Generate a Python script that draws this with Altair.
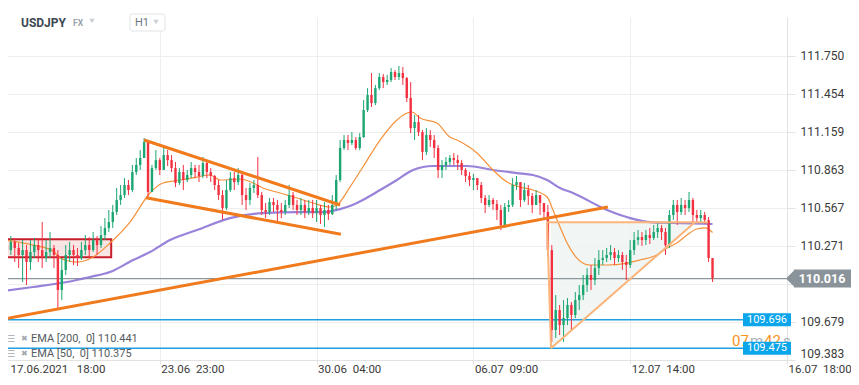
import altair as alt
import pandas as pd

# ---------------- data ----------------
symbol = "USDJPY"
market = "FX"
interval = "H1"

x_tick_idx = [0, 40, 80, 120, 160, 200]
x_tick_labels = ["17.06.2021\u00a0\u00a0\u00a018:00", "23.06\u00a0\u00a023:00", "30.06\u00a0\u00a004:00",
                 "06.07\u00a0\u00a009:00", "12.07\u00a0\u00a014:00", "16.07\u00a0\u00a018:00"]
y_ticks = [109.383, 109.679, 109.975, 110.271, 110.567, 110.863, 111.159, 111.454, 111.750]
y_hidden_tick = 109.975

first_open = 110.300
closes = [
    110.277, 110.238, 110.301, 110.254, 110.200, 110.238, 110.145, 110.223, 110.277, 110.238,
    110.176, 110.223, 110.254, 110.200, 109.927, 110.083, 110.200, 110.238, 110.200, 110.176,
    110.238, 110.277, 110.238, 110.316, 110.277, 110.355, 110.410, 110.456, 110.534, 110.628,
    110.666, 110.744, 110.705, 110.845, 110.900, 110.954, 111.078, 110.690, 110.876, 110.938,
    110.861, 110.977, 110.938, 110.876, 110.760, 110.845, 110.783, 110.822, 110.876, 110.845,
    110.814, 110.915, 110.845, 110.814, 110.744, 110.666, 110.565, 110.705, 110.798, 110.767,
    110.822, 110.666, 110.628, 110.721, 110.744, 110.666, 110.550, 110.534, 110.612, 110.589,
    110.550, 110.534, 110.589, 110.666, 110.589, 110.550, 110.589, 110.534, 110.565, 110.526,
    110.565, 110.511, 110.550, 110.518, 110.589, 110.783, 111.032, 111.094, 111.071, 111.094,
    111.032, 111.117, 111.327, 111.444, 111.382, 111.498, 111.584, 111.545, 111.561, 111.623,
    111.584, 111.615, 111.576, 111.421, 111.187, 111.234, 111.156, 111.001, 111.133, 111.094,
    111.032, 110.861, 110.900, 110.923, 110.954, 110.938, 110.915, 110.861, 110.814, 110.783,
    110.798, 110.744, 110.643, 110.589, 110.628, 110.596, 110.550, 110.433, 110.573, 110.589,
    110.744, 110.767, 110.628, 110.705, 110.658, 110.589, 110.666, 110.604, 110.534, 110.238,
    109.616, 109.772, 109.655, 109.709, 109.811, 109.733, 109.849, 109.888, 109.966, 110.044,
    110.005, 110.098, 110.161, 110.176, 110.200, 110.223, 110.176, 110.200, 110.145, 110.122,
    110.238, 110.316, 110.339, 110.316, 110.355, 110.332, 110.378, 110.410, 110.378, 110.277,
    110.511, 110.589, 110.534, 110.589, 110.565, 110.628, 110.511, 110.487, 110.511, 110.472,
    110.176, 110.016,
]
highs = [
    110.339, 110.316, 110.347, 110.332, 110.293, 110.316, 110.277, 110.316, 110.332, 110.332,
    110.456, 110.316, 110.378, 110.277, 110.238, 110.176, 110.277, 110.301, 110.277, 110.254,
    110.301, 110.355, 110.339, 110.378, 110.347, 110.425, 110.487, 110.550, 110.589, 110.721,
    110.744, 110.798, 110.783, 110.900, 110.954, 111.016, 111.110, 111.055, 110.900, 111.016,
    110.954, 111.040, 111.016, 110.977, 110.923, 110.876, 110.900, 110.861, 110.923, 110.900,
    110.900, 110.962, 110.938, 110.876, 110.822, 110.783, 110.705, 110.783, 110.845, 110.845,
    110.876, 110.845, 110.721, 110.760, 110.783, 110.962, 110.690, 110.604, 110.643, 110.643,
    110.628, 110.604, 110.628, 110.744, 110.690, 110.628, 110.643, 110.628, 110.628, 110.628,
    110.628, 110.589, 110.612, 110.589, 110.666, 110.822, 111.094, 111.133, 111.133, 111.156,
    111.117, 111.148, 111.405, 111.498, 111.615, 111.522, 111.615, 111.607, 111.600, 111.654,
    111.638, 111.670, 111.662, 111.584, 111.545, 111.288, 111.288, 111.172, 111.187, 111.172,
    111.133, 111.055, 110.938, 110.962, 110.977, 110.993, 110.977, 110.938, 110.876, 110.845,
    110.830, 110.798, 110.767, 110.666, 110.666, 110.643, 110.628, 110.589, 110.604, 110.628,
    110.798, 110.814, 110.767, 110.760, 110.744, 110.682, 110.705, 110.666, 110.604, 110.589,
    110.277, 109.888, 109.811, 109.849, 109.865, 109.834, 109.912, 109.966, 110.044, 110.098,
    110.122, 110.176, 110.238, 110.238, 110.254, 110.277, 110.254, 110.238, 110.223, 110.200,
    110.316, 110.378, 110.394, 110.378, 110.394, 110.410, 110.433, 110.456, 110.433, 110.410,
    110.550, 110.628, 110.628, 110.643, 110.628, 110.690, 110.643, 110.550, 110.550, 110.534,
    110.495, 110.145,
]
lows = [
    110.223, 110.176, 110.200, 110.145, 110.098, 109.990, 109.966, 110.083, 110.176, 110.145,
    110.098, 110.145, 110.176, 110.098, 109.772, 109.849, 110.044, 110.145, 110.122, 110.114,
    110.161, 110.200, 110.176, 110.223, 110.200, 110.254, 110.316, 110.378, 110.410, 110.511,
    110.589, 110.643, 110.666, 110.690, 110.822, 110.861, 111.016, 110.651, 110.690, 110.861,
    110.822, 110.861, 110.892, 110.845, 110.728, 110.744, 110.705, 110.767, 110.798, 110.798,
    110.767, 110.798, 110.798, 110.767, 110.705, 110.628, 110.472, 110.550, 110.690, 110.705,
    110.744, 110.589, 110.550, 110.589, 110.682, 110.643, 110.511, 110.487, 110.511, 110.534,
    110.456, 110.487, 110.511, 110.565, 110.550, 110.511, 110.511, 110.487, 110.511, 110.487,
    110.456, 110.441, 110.417, 110.472, 110.511, 110.550, 110.767, 111.016, 111.016, 111.055,
    111.016, 111.016, 111.110, 111.312, 111.351, 111.366, 111.483, 111.498, 111.522, 111.545,
    111.561, 111.561, 111.522, 111.390, 111.148, 111.094, 111.125, 110.938, 110.977, 111.040,
    110.954, 110.798, 110.798, 110.861, 110.900, 110.900, 110.861, 110.822, 110.767, 110.736,
    110.705, 110.705, 110.604, 110.526, 110.573, 110.550, 110.472, 110.394, 110.410, 110.534,
    110.573, 110.705, 110.573, 110.612, 110.589, 110.526, 110.589, 110.511, 110.472, 110.192,
    109.523, 109.554, 109.577, 109.523, 109.655, 109.616, 109.709, 109.772, 109.849, 109.912,
    109.927, 109.966, 110.044, 110.122, 110.145, 110.161, 110.122, 110.145, 110.083, 110.005,
    110.098, 110.200, 110.277, 110.270, 110.277, 110.285, 110.316, 110.332, 110.316, 110.200,
    110.254, 110.472, 110.433, 110.511, 110.511, 110.534, 110.456, 110.456, 110.456, 110.441,
    110.145, 109.990,
]

ema50_idx = [0, 7.7, 12.8, 14.5, 18.9, 23, 27.3, 32.4, 37.5, 40.8, 45.2, 49.5, 52.8, 55.4, 60.5,
             63.8, 66.3, 70.7, 75, 79.1, 83.4, 85.2, 88.5, 91.8, 96.2, 100.5, 103.1, 104.3, 106.4,
             110.7, 114, 115.8, 120.9, 125, 128.6, 131.9, 135.2, 138.8, 140.3, 142.1, 143.9, 146.4,
             149.7, 154.1, 159.2, 162.5, 166.8, 169.4, 171.9, 174.5, 177.0, 179.1, 181]
ema50_val = [110.316, 110.277, 110.231, 110.176, 110.145, 110.184, 110.293, 110.456, 110.682, 110.760,
             110.783, 110.806, 110.822, 110.783, 110.791, 110.760, 110.721, 110.682, 110.643, 110.604,
             110.573, 110.589, 110.728, 110.884, 111.094, 111.250, 111.304, 111.312, 111.265, 111.226,
             111.117, 111.094, 110.993, 110.861, 110.767, 110.728, 110.705, 110.651, 110.550, 110.417,
             110.293, 110.176, 110.122, 110.122, 110.137, 110.161, 110.200, 110.254, 110.293, 110.355,
             110.402, 110.410, 110.375]
ema200_idx = [0, 7.7, 16.3, 22.2, 27.3, 33.2, 37.5, 42.6, 49.5, 57.9, 66.3, 75, 81.6, 86, 88.5, 91.8,
              96.2, 100.5, 104.6, 109.7, 118.4, 125, 131.1, 135.2, 138.8, 142.1, 145.4, 154.1, 160,
              165, 170.9, 181]
ema200_val = [109.920, 109.951, 109.990, 110.029, 110.067, 110.161, 110.223, 110.316, 110.394, 110.487,
              110.526, 110.534, 110.534, 110.557, 110.581, 110.628, 110.705, 110.783, 110.861, 110.892,
              110.892, 110.861, 110.837, 110.822, 110.783, 110.721, 110.682, 110.550, 110.487, 110.456,
              110.449, 110.441]
legend_labels = ["EMA [200,\u00a0 0] 110.441", "EMA [50,\u00a0 0] 110.375"]

# drawings (trend lines, channel, triangle, box)
trend_x0 = [0, 36, 36.5]
trend_y0 = [109.700, 111.094, 110.645]
trend_x1 = [154.3, 86, 86.2]
trend_y1 = [110.573, 110.589, 110.361]
tri_x0 = [138.8, 138.8, 139.8]
tri_y0 = [110.454, 110.454, 109.474]
tri_x1 = [179.8, 139.8, 176.5]
tri_y1 = [110.454, 109.474, 110.454]
box_i = [0, 27.6]
box_v = [110.182, 110.322]
levels = [109.696, 109.475]
level_end_idx = 188.8
countdown = ["07", "m", "42", "s"]

# ---------------- build ----------------
GREEN, RED = "#1ba672", "#f23040"
opens = [first_open] + closes[:-1]
rows = []
for i, (o, c, h, l) in enumerate(zip(opens, closes, highs, lows)):
    rows.append(dict(i=i, open=o, close=c, high=max(h, o, c), low=min(l, o, c),
                     dir="up" if c >= o else "down"))
candles = pd.DataFrame(rows)

xs = alt.Scale(domain=[0, 200], nice=False, zero=False)
ys = alt.Scale(domain=[109.383, 112.051], nice=False, zero=False)
color = alt.Color("dir:N", scale=alt.Scale(domain=["up", "down"], range=[GREEN, RED]), legend=None)

x_expr = " : ".join(f"datum.value == {v} ? '{lab}'" for v, lab in zip(x_tick_idx, x_tick_labels)) + " : ''"
y_expr = f"abs(datum.value - {y_hidden_tick}) < 0.0005 ? '' : format(datum.value, '.3f')"

x_axis = alt.Axis(values=x_tick_idx, labelExpr=x_expr, grid=True, gridColor="#eeeeee",
                  domainColor="#e2e2e2", tickColor="#e2e2e2", tickSize=4, labelPadding=-1,
                  labelAlign="left", labelFont="Roboto", labelFontSize=11.5, labelColor="#3a3a3a",
                  labelOffset={"condition": {"test": f"datum.value == {x_tick_idx[0]}", "value": 7},
                               "value": 1},
                  labelOverlap=False, labelFlush=False, title=None)
y_axis = alt.Axis(values=y_ticks, labelExpr=y_expr, orient="right", grid=True, gridColor="#eeeeee",
                  domainColor="#e2e2e2", tickColor="#e2e2e2", tickSize=8, labelPadding=5,
                  labelFont="Roboto", labelFontSize=12, labelColor="#3a3a3a", labelFlush=True,
                  labelOverlap=False, title=None)


def X(field):
    return alt.X(field, scale=xs, axis=x_axis)


def Y(field):
    return alt.Y(field, scale=ys, axis=y_axis)


layers = []

# red box
box_df = pd.DataFrame({"x0": [box_i[0]], "x1": [box_i[1]], "y0": [box_v[0]], "y1": [box_v[1]]})
layers.append(alt.Chart(box_df).mark_rect(fill="#f6d3d3", fillOpacity=0.6, stroke="#c81e2b",
                                           strokeWidth=2, clip=True).encode(
    x=X("x0:Q"), x2="x1:Q", y=Y("y0:Q"), y2="y1:Q"))

# triangle fill
tri_fill = pd.DataFrame({"i": [tri_x1[1], tri_x1[2]], "top": [tri_y0[0], tri_y0[0]],
                         "bot": [tri_y1[1], tri_y1[2]]})
layers.append(alt.Chart(tri_fill).mark_area(color="#eef2f0", opacity=0.8).encode(
    x=X("i:Q"), y=Y("top:Q"), y2="bot:Q"))

# level lines
lvl_df = pd.DataFrame({"v": levels, "x0": [0] * len(levels), "x1": [level_end_idx] * len(levels)})
layers.append(alt.Chart(lvl_df).mark_rule(color="#1e9fe0", strokeWidth=1.5).encode(
    x=X("x0:Q"), x2="x1:Q", y=Y("v:Q")))

# current price line
cur_df = pd.DataFrame({"v": [closes[-1]]})
layers.append(alt.Chart(cur_df).mark_rule(color="#8d969c", strokeWidth=1.2).encode(y=Y("v:Q")))

# EMA lines
e200 = pd.DataFrame({"i": ema200_idx, "v": ema200_val})
layers.append(alt.Chart(e200).mark_line(color="#8e74d6", strokeWidth=2.2, opacity=0.9,
                                        interpolate="monotone", clip=True).encode(
    x=X("i:Q"), y=Y("v:Q")))
e50 = pd.DataFrame({"i": ema50_idx, "v": ema50_val})
layers.append(alt.Chart(e50).mark_line(color="#f5913a", strokeWidth=1.2,
                                       interpolate="monotone", clip=True).encode(
    x=X("i:Q"), y=Y("v:Q")))

# candles
layers.append(alt.Chart(candles).mark_rule(strokeWidth=1, clip=True).encode(
    x=X("i:Q"), y=Y("low:Q"), y2="high:Q", color=color))
layers.append(alt.Chart(candles).mark_rule(strokeWidth=2.4, clip=True).encode(
    x=X("i:Q"), y=Y("open:Q"), y2="close:Q", color=color))

# triangle edges
tri_df = pd.DataFrame({"x0": tri_x0, "y0": tri_y0, "x1": tri_x1, "y1": tri_y1})
layers.append(alt.Chart(tri_df).mark_rule(color="#fbb47a", strokeWidth=2, clip=True).encode(
    x=X("x0:Q"), x2="x1:Q", y=Y("y0:Q"), y2="y1:Q"))

# trend lines
tr_df = pd.DataFrame({"x0": trend_x0, "y0": trend_y0, "x1": trend_x1, "y1": trend_y1})
layers.append(alt.Chart(tr_df).mark_rule(color="#f07a1c", strokeWidth=3, clip=True).encode(
    x=X("x0:Q"), x2="x1:Q", y=Y("y0:Q"), y2="y1:Q"))

one = pd.DataFrame({"a": [0]})

# countdown text
cd_x = [729, 747, 761, 780]
cd_col = ["#f7931e", "#aab1b7", "#f7931e", "#aab1b7"]
for txt, xx, cc in zip(countdown, cd_x, cd_col):
    layers.append(alt.Chart(one).mark_text(text=txt, align="left", baseline="alphabetic",
                                           font="Roboto", fontSize=15, color=cc).encode(
        x=alt.value(xx), y=alt.value(329)))

# level tags
tag_half = 6.5 / 128.56
lt = pd.DataFrame({"v": levels, "hi": [v + tag_half for v in levels], "lo": [v - tag_half for v in levels],
                   "t": [f"{v:.3f}" for v in levels]})
layers.append(alt.Chart(lt).mark_rect(color="#0aa5ea").encode(
    x=alt.value(740), x2=alt.value(788), y=Y("hi:Q"), y2="lo:Q"))
layers.append(alt.Chart(lt).mark_text(color="white", font="Roboto", fontSize=11).encode(
    x=alt.value(764), y=Y("v:Q"), text="t:N"))

# current price tag
ch = 9 / 128.56
ct = pd.DataFrame({"v": [closes[-1]], "hi": [closes[-1] + ch], "lo": [closes[-1] - ch],
                   "t": [f"{closes[-1]:.3f}"]})
layers.append(alt.Chart(ct).mark_rect(color="#8a9399").encode(
    x=alt.value(791), x2=alt.value(848), y=Y("hi:Q"), y2="lo:Q"))
layers.append(alt.Chart(ct).mark_point(shape="M-1,0L0,-1L0,1Z", filled=True, size=324,
                                       color="#8a9399", opacity=1).encode(
    x=alt.value(792), y=Y("v:Q")))
layers.append(alt.Chart(ct).mark_text(color="white", font="Roboto", fontSize=12.5,
                                      fontWeight="bold").encode(
    x=alt.value(819), y=Y("v:Q"), text="t:N"))

# legend rows
for k, lab in enumerate(legend_labels):
    yy = 322 + 15 * k
    layers.append(alt.Chart(one).mark_text(text="\u2630", align="left", font="DejaVu Sans",
                                           fontSize=9, color="#a3a8ad").encode(
        x=alt.value(4), y=alt.value(yy)))
    layers.append(alt.Chart(one).mark_text(text="\u2716", align="left", font="DejaVu Sans",
                                           fontSize=8, color="#a3a8ad").encode(
        x=alt.value(18), y=alt.value(yy)))
    layers.append(alt.Chart(one).mark_text(text=lab, align="left", font="Roboto",
                                           fontSize=11, color="#555b60").encode(
        x=alt.value(28), y=alt.value(yy)))

# header
layers.append(alt.Chart(one).mark_text(text=symbol, align="left", font="Roboto", fontSize=12,
                                       fontWeight="bold", color="#3d4852").encode(
    x=alt.value(18), y=alt.value(6)))
layers.append(alt.Chart(one).mark_text(text=market, align="left", font="Roboto", fontSize=8.5,
                                       fontWeight="bold", color="#9aa4ad").encode(
    x=alt.value(70), y=alt.value(6)))
layers.append(alt.Chart(one).mark_point(shape="triangle-down", filled=True, size=28,
                                        color="#c9ced3", opacity=1).encode(
    x=alt.value(89), y=alt.value(4)))
layers.append(alt.Chart(one).mark_rect(fill="white", stroke="#dfe3e6", strokeWidth=1,
                                       cornerRadius=2).encode(
    x=alt.value(127), x2=alt.value(162), y=alt.value(-3), y2=alt.value(14)))
layers.append(alt.Chart(one).mark_text(text=interval, align="left", font="Roboto", fontSize=11,
                                       color="#6f7880").encode(
    x=alt.value(132), y=alt.value(6)))
layers.append(alt.Chart(one).mark_point(shape="triangle-down", filled=True, size=28,
                                        color="#c9ced3", opacity=1).encode(
    x=alt.value(153), y=alt.value(5)))

chart = alt.layer(*layers).properties(
    width=784, height=343,
    autosize=alt.AutoSizeParams(type="none"),
    padding={"left": -5, "top": 9, "right": 64, "bottom": 17},
    background="white",
).configure_view(stroke=None)

chart.save("out.html", embed_options={"renderer": "svg", "actions": False})
